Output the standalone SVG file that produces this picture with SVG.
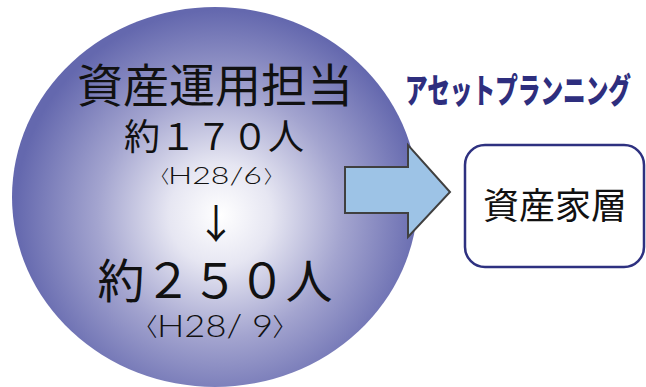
<svg xmlns="http://www.w3.org/2000/svg" width="646" height="387" viewBox="0 0 646 387">
<defs>
<radialGradient id="g" cx="220" cy="215" r="205" gradientUnits="userSpaceOnUse">
<stop offset="0" stop-color="#ffffff"/>
<stop offset="0.25" stop-color="#e6e6f2"/>
<stop offset="0.6" stop-color="#a3a4cf"/>
<stop offset="1" stop-color="#6468ae"/>
</radialGradient>
<style>
.t{font-family:"Noto Sans CJK JP","Noto Sans",sans-serif;fill:#111;text-anchor:middle}
.d{font-family:Lato,"Noto Sans",sans-serif;font-weight:300;fill:#111}
.b{font-family:"Noto Sans CJK JP",sans-serif;font-weight:300;fill:#111;text-anchor:middle}
</style>
</defs>
<g id="circle">
<ellipse cx="215" cy="197" rx="203" ry="190" fill="url(#g)"/>
<text class="t" x="215" y="102" font-size="46">資産運用担当</text>
<text class="t" x="214" y="150" font-size="36">約１７０人</text>
<text class="b" x="160" y="183" font-size="18">〈</text>
<text class="d" x="168" y="184" font-size="23" textLength="94" lengthAdjust="spacingAndGlyphs">H28/6</text>
<text class="b" x="273" y="183" font-size="18">〉</text>
<text class="t" x="216" y="238" font-size="40">↓</text>
<text class="t" x="215" y="298" font-size="47">約２５０人</text>
<text class="b" x="145" y="336" font-size="25">〈</text>
<text class="d" x="157" y="337" font-size="31" textLength="116" lengthAdjust="spacingAndGlyphs">H28/ 9</text>
<text class="b" x="285" y="336" font-size="25">〉</text>
</g>
<g id="title">
<text x="405" y="103" font-family="Noto Sans CJK JP,sans-serif" font-weight="900" font-size="34" fill="#2e2e7e" textLength="226" lengthAdjust="spacingAndGlyphs">アセットプランニング</text>
</g>
<g id="connectors">
<path d="M345,167 H408 V145 L450,192 L408,237 V213 H345 Z" fill="#9dc3e6" stroke="#404040" stroke-width="2"/>
</g>
<g id="box">
<rect x="465" y="145" width="179" height="122" rx="20" fill="#fff" stroke="#2e3180" stroke-width="2.5"/>
<text class="t" x="555" y="219" font-size="36">資産家層</text>
</g>
</svg>
